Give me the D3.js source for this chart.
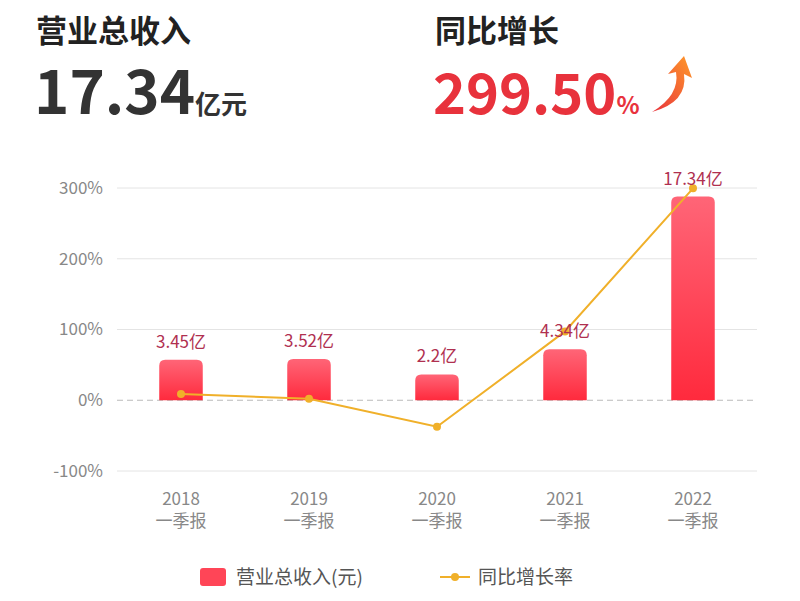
<!DOCTYPE html>
<html><head><meta charset="utf-8">
<script src="https://cdn.jsdelivr.net/npm/d3@7"></script>
<style>body{margin:0;background:#fff;font-family:"Noto Sans CJK SC","Noto Sans",sans-serif;}</style>
</head><body>
<script>
// data
var categories = ["2018\n一季报", "2019\n一季报", "2020\n一季报", "2021\n一季报", "2022\n一季报"];
var revenue = [3.45, 3.52, 2.2, 4.34, 17.34];          // 亿元
var revenueLabels = ["3.45亿", "3.52亿", "2.2亿", "4.34亿", "17.34亿"];
var growth = [9, 2, -37.5, 97.3, 299.5];               // %
var yTicks = [-100, 0, 100, 200, 300];
var barScale = 16.6; // bars drawn on % axis

var svg = d3.select("body").append("svg").attr("width", 800).attr("height", 601);
var font = '"Noto Sans CJK SC", sans-serif';

// header
svg.append("text").attr("x", 36).attr("y", 42).attr("font-size", 31).attr("font-weight", 700)
  .attr("fill", "#222").attr("font-family", font).text("营业总收入");
var t1 = svg.append("text").attr("x", 34).attr("y", 114).attr("font-family", font).attr("fill", "#333").attr("font-weight", 700);
t1.append("tspan").attr("font-size", 60).text("17.34");
t1.append("tspan").attr("font-size", 26).text("亿元");
svg.append("text").attr("x", 435).attr("y", 42).attr("font-size", 31).attr("font-weight", 700)
  .attr("fill", "#222").attr("font-family", font).text("同比增长");
var t2 = svg.append("text").attr("x", 433).attr("y", 114).attr("font-family", font).attr("fill", "#e8323c").attr("font-weight", 700);
t2.append("tspan").attr("font-size", 56).text("299.50");
t2.append("tspan").attr("font-size", 24).text("%");
var defs = svg.append("defs");
var ag = defs.append("linearGradient").attr("id", "arr").attr("x1", 0).attr("y1", 1).attr("x2", 1).attr("y2", 0);
ag.append("stop").attr("offset", 0).attr("stop-color", "#e8323c");
ag.append("stop").attr("offset", 1).attr("stop-color", "#ff9a2a");
svg.append("path").attr("d", "M652,112 Q680,95 676,72 L668,74 L684,56 L692,78 L684,74 Q688,102 652,112 Z")
  .attr("fill", "url(#arr)");

// chart
var x = d3.scaleBand().domain(categories).range([117, 757]).paddingInner(0.66).paddingOuter(0.33);
var y = d3.scaleLinear().domain([-100, 300]).range([471, 188]);
var g = svg.append("g");
g.selectAll(".grid").data(yTicks).enter().append("line")
  .attr("x1", 117).attr("x2", 757).attr("y1", d => y(d)).attr("y2", d => y(d))
  .attr("stroke", d => d === 0 ? "#bbb" : "#e4e4e4").attr("stroke-dasharray", d => d === 0 ? "6,4" : null);
var yAxis = d3.axisLeft(y).tickValues(yTicks).tickFormat(d => d + "%").tickSize(0).tickPadding(14);
g.append("g").attr("transform", "translate(117,0)").call(yAxis)
  .call(a => a.select(".domain").remove())
  .selectAll("text").attr("font-size", 17).attr("fill", "#888").attr("font-family", font);

var bg = defs.append("linearGradient").attr("id", "bar").attr("x1", 0).attr("y1", 0).attr("x2", 0).attr("y2", 1);
bg.append("stop").attr("offset", 0).attr("stop-color", "#ff6577");
bg.append("stop").attr("offset", 1).attr("stop-color", "#ff2a3d");
g.selectAll(".bar").data(revenue).enter().append("path")
  .attr("d", function(d, i) {
    var x0 = x(categories[i]), w = x.bandwidth(), top = y(d * barScale), b = y(0), r = 6;
    return "M" + x0 + "," + b + "V" + (top + r) + "Q" + x0 + "," + top + " " + (x0 + r) + "," + top +
      "H" + (x0 + w - r) + "Q" + (x0 + w) + "," + top + " " + (x0 + w) + "," + (top + r) + "V" + b + "Z";
  }).attr("fill", "url(#bar)");

var cx = d => x(d) + x.bandwidth() / 2;
g.append("path").datum(growth)
  .attr("d", d3.line().x((d, i) => cx(categories[i])).y(d => y(d)))
  .attr("fill", "none").attr("stroke", "#f0b02a").attr("stroke-width", 2);
g.selectAll(".dot").data(growth).enter().append("circle")
  .attr("cx", (d, i) => cx(categories[i])).attr("cy", d => y(d)).attr("r", 4).attr("fill", "#f0b02a");

g.selectAll(".lbl").data(revenue).enter().append("text")
  .attr("x", (d, i) => cx(categories[i])).attr("y", d => y(d * barScale) - 12)
  .attr("text-anchor", "middle").attr("font-size", 17).attr("fill", "#b03050").attr("font-family", font)
  .text((d, i) => revenueLabels[i]);

var xl = g.selectAll(".xl").data(categories).enter().append("text")
  .attr("text-anchor", "middle").attr("font-size", 17).attr("fill", "#888").attr("font-family", font);
xl.append("tspan").attr("x", d => cx(d)).attr("y", 505).text(d => d.split("\n")[0]);
xl.append("tspan").attr("x", d => cx(d)).attr("y", 527).text(d => d.split("\n")[1]);

// legend
svg.append("rect").attr("x", 200).attr("y", 568).attr("width", 26).attr("height", 18).attr("rx", 3).attr("fill", "#ff4557");
svg.append("text").attr("x", 236).attr("y", 584).attr("font-size", 19).attr("fill", "#555").attr("font-family", font).text("营业总收入(元)");
svg.append("line").attr("x1", 440).attr("x2", 470).attr("y1", 577).attr("y2", 577).attr("stroke", "#f0b02a").attr("stroke-width", 2);
svg.append("circle").attr("cx", 455).attr("cy", 577).attr("r", 4).attr("fill", "#f0b02a");
svg.append("text").attr("x", 478).attr("y", 584).attr("font-size", 19).attr("fill", "#555").attr("font-family", font).text("同比增长率");
</script>
</body></html>
